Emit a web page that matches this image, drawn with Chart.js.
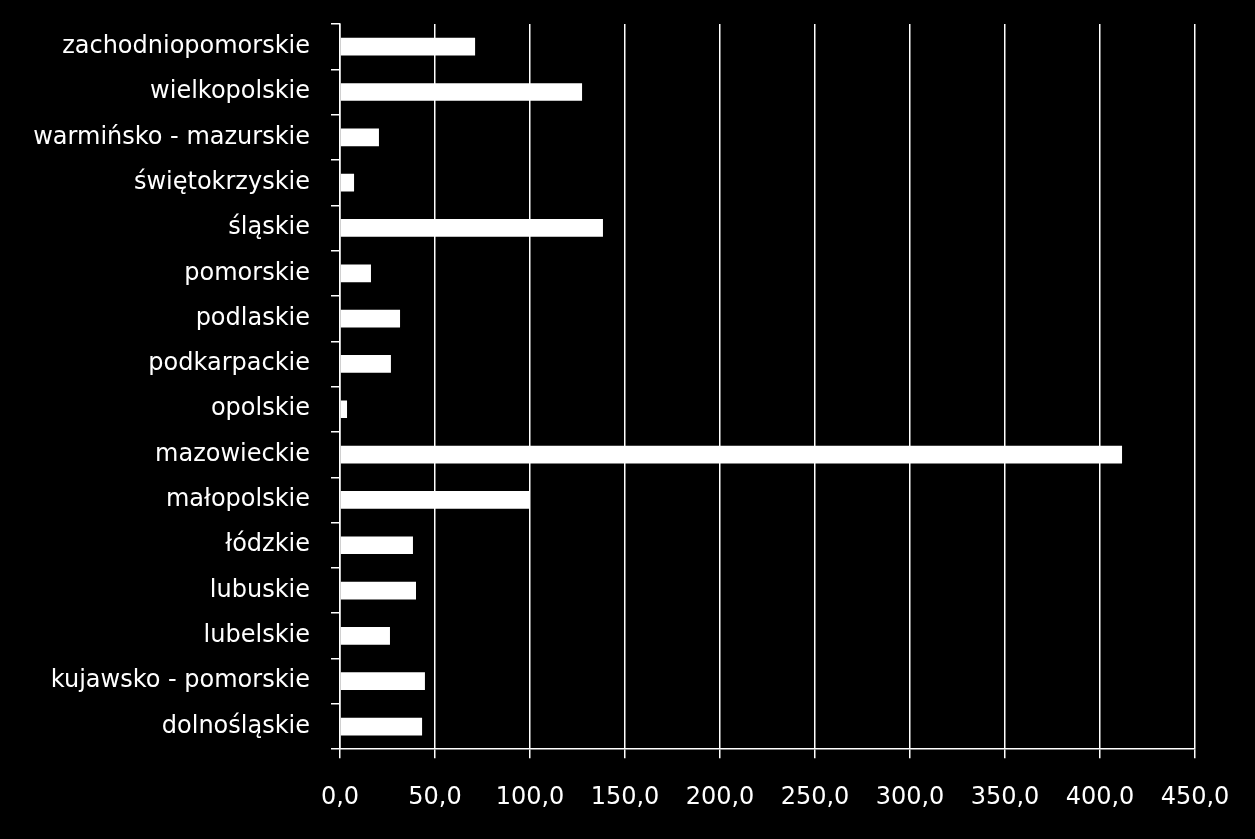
<!DOCTYPE html>
<html>
<head>
<meta charset="utf-8">
<script src="https://cdn.jsdelivr.net/npm/chart.js@4"></script>
<style>
  html, body { margin: 0; padding: 0; background: #000; }
  #wrap { width: 1255px; height: 839px; }
</style>
</head>
<body>
<div id="wrap"><canvas id="chart"></canvas></div>
<script>
// Województwa, top to bottom as shown
const regions = [
  'zachodniopomorskie', 'wielkopolskie', 'warmińsko - mazurskie', 'świętokrzyskie',
  'śląskie', 'pomorskie', 'podlaskie', 'podkarpackie', 'opolskie', 'mazowieckie',
  'małopolskie', 'łódzkie', 'lubuskie', 'lubelskie', 'kujawsko - pomorskie', 'dolnośląskie'
];
const values = [
  71.1, 127.4, 20.5, 7.4,
  138.4, 16.3, 31.6, 26.8, 3.7, 411.6,
  100.0, 38.4, 40.0, 26.3, 44.7, 43.2
];
const axisMin = 0;
const axisMax = 450;
const axisStep = 50;

const ctx = document.getElementById('chart').getContext('2d');
new Chart(ctx, {
  type: 'bar',
  data: {
    labels: regions,
    datasets: [{
      data: values,
      backgroundColor: '#ffffff',
      borderWidth: 0,
      barPercentage: 0.39,
      categoryPercentage: 1.0
    }]
  },
  options: {
    indexAxis: 'y',
    responsive: true,
    maintainAspectRatio: false,
    animation: false,
    layout: { padding: { left: 0, right: 60, top: 24, bottom: 2 } },
    plugins: {
      legend: { display: false },
      tooltip: { enabled: false }
    },
    scales: {
      x: {
        min: axisMin,
        max: axisMax,
        border: { color: '#ffffff', width: 1.5 },
        grid: { color: '#ffffff', lineWidth: 1.5, drawTicks: true, tickLength: 9 },
        ticks: {
          stepSize: axisStep,
          color: '#ffffff',
          padding: 25,
          font: { family: 'DejaVu Sans', size: 24 },
          callback: v => v.toFixed(1).replace('.', ',')
        }
      },
      y: {
        border: { color: '#ffffff', width: 1.5 },
        grid: {
          offset: true,
          drawOnChartArea: false,
          color: '#ffffff',
          lineWidth: 1.5,
          tickLength: 9
        },
        ticks: {
          color: '#ffffff',
          padding: 21,
          font: { family: 'DejaVu Sans', size: 24 }
        },
        afterFit: scale => {
          scale.width = 340;
          scale.paddingTop = 0;
          scale.paddingBottom = 0;
        }
      }
    }
  }
});
</script>
</body>
</html>
